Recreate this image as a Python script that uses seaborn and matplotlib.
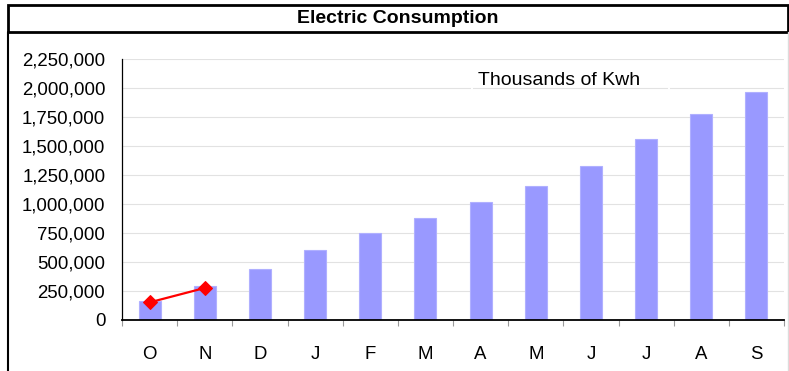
import matplotlib
matplotlib.use("Agg")
import matplotlib.pyplot as plt
from matplotlib.patches import Rectangle
from matplotlib.lines import Line2D
from matplotlib.ticker import FuncFormatter, FixedLocator
import numpy as np
import pandas as pd
import seaborn as sns

# Monthly electric consumption (thousands of kWh), fiscal year Oct–Sep
months = ["Oct", "Nov", "Dec", "Jan", "Feb", "Mar",
          "Apr", "May", "Jun", "Jul", "Aug", "Sep"]
month_labels = ["O", "N", "D", "J", "F", "M", "A", "M", "J", "J", "A", "S"]
consumption = [165000, 295000, 437000, 603000, 752000, 880000,
               1017000, 1155000, 1330000, 1558000, 1773000, 1963000]

# Actual readings so far
actual_months = ["Oct", "Nov"]
actual_values = [152000, 276000]

y_ticks = [0, 250000, 500000, 750000, 1000000, 1250000,
           1500000, 1750000, 2000000, 2250000]

title_text = "Electric Consumption"
units_text = "Thousands of Kwh"

W, H, DPI = 789, 371, 100

sns.set_style("white")
plt.rcParams["font.family"] = ["Liberation Sans", "DejaVu Sans"]

fig = plt.figure(figsize=(W / DPI, H / DPI), dpi=DPI)
fig.patch.set_facecolor("white")


def fx(px):
    return px / W


def fy(py):
    return 1 - py / H


ax_left, ax_right, ax_top, ax_bottom = 122, 784, 59, 320
ax = fig.add_axes([fx(ax_left), fy(ax_bottom),
                   fx(ax_right - ax_left), (ax_bottom - ax_top) / H])

df = pd.DataFrame({"month": months, "kwh": consumption})
sns.barplot(data=df, x="month", y="kwh", order=months, ax=ax,
            color="#9999ff", saturation=1, width=0.4,
            edgecolor="#b0b0ff", linewidth=0.8, zorder=2)

pos = [months.index(m) for m in actual_months]
sns.lineplot(x=pos, y=actual_values, ax=ax, color="#ff0000", lw=1.6,
             marker="D", markersize=7, markeredgecolor="#ff0000",
             markerfacecolor="#ff0000", zorder=4)

ax.set_xlim(-0.5, len(months) - 0.5)
ax.set_ylim(0, y_ticks[-1])
ax.set_xlabel("")
ax.set_ylabel("")

ax.set_yticks(y_ticks)
ax.yaxis.set_major_formatter(FuncFormatter(lambda v, p: f"{int(v):,}"))
ax.set_xticks(range(len(months)))
ax.set_xticklabels(month_labels)
ax.xaxis.set_minor_locator(FixedLocator(np.arange(-0.5, len(months), 1.0)))

ax.grid(axis="y", color="#e2e2e2", lw=0.8, zorder=0)
ax.set_axisbelow(True)

ax.tick_params(axis="y", which="major", length=4, width=0.8,
               color="#d8d8d8", labelsize=13.4, labelcolor="black", pad=8)
ax.tick_params(axis="x", which="major", length=0, labelsize=13.4,
               labelcolor="black", pad=19)
ax.tick_params(axis="x", which="minor", length=4, width=0.8,
               color="#9a9a9a", direction="out", bottom=True)

for s in ["top", "right"]:
    ax.spines[s].set_visible(False)
ax.spines["left"].set_color("black")
ax.spines["left"].set_linewidth(0.9)
ax.spines["bottom"].set_color("black")
ax.spines["bottom"].set_linewidth(1.3)

# label for units, with a thin white frame breaking the grid
ax.text((478 - ax_left) / (ax_right - ax_left),
        (ax_bottom - 85) / (ax_bottom - ax_top),
        units_text, transform=ax.transAxes, ha="left", va="baseline",
        fontsize=14, color="black", zorder=5)
ax.add_patch(Rectangle(((472.5 - ax_left) / (ax_right - ax_left),
                        (ax_bottom - 100) / (ax_bottom - ax_top)),
                       (669 - 472.5) / (ax_right - ax_left),
                       38 / (ax_bottom - ax_top),
                       transform=ax.transAxes, facecolor="none",
                       edgecolor="white", lw=1.4, zorder=3, clip_on=False))

# outer chart frame: black left edge, faint right edge
fig.add_artist(Line2D([fx(8), fx(8)], [fy(32), fy(H + 2)], color="black",
                      lw=1.5, transform=fig.transFigure))
fig.add_artist(Line2D([fx(787.5), fx(787.5)], [fy(32), fy(H + 2)],
                      color="#dcdcdc", lw=1.0, transform=fig.transFigure))

# title box
fig.add_artist(Rectangle((fx(8), fy(32)), fx(780), 27 / H,
                         transform=fig.transFigure, facecolor="white",
                         edgecolor="black", lw=2.0))
fig.text(fx(398), fy(18.5), title_text, ha="center", va="center",
         fontsize=14, fontweight="bold", color="black")

fig.savefig("out.png", dpi=DPI, facecolor="white")
